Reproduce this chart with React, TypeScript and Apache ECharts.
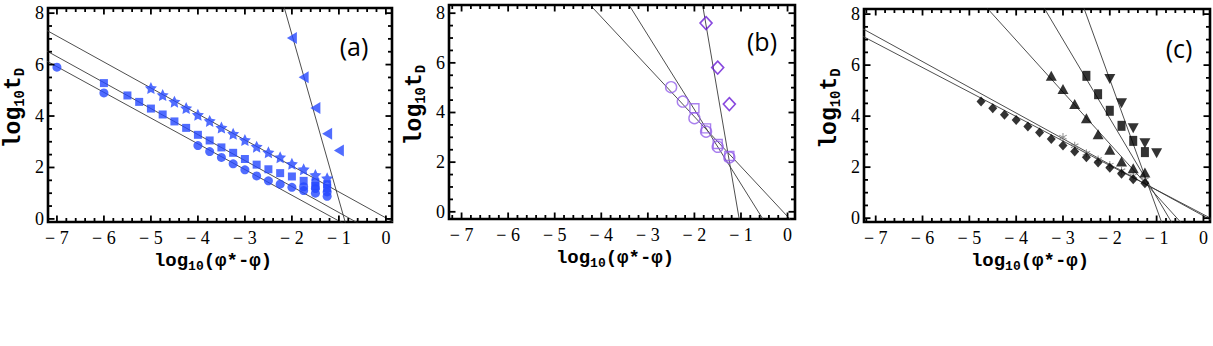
import React, { useEffect, useRef } from "react";
import * as echarts from "echarts";

// ---------- tick values ----------
const X_TICKS = [-7, -6, -5, -4, -3, -2, -1, 0];
const Y_TICKS = [0, 2, 4, 6, 8];
const X_MINOR: number[] = [];
for (let i = -40; i <= 5; i++) X_MINOR.push(Math.round(i * 2) / 10);
const Y_MINOR: number[] = [];
for (let i = -1; i <= 17; i++) Y_MINOR.push(i * 0.5);

// ---------- panel (a) ----------
const aCircles: number[][] = [
  [-7, 5.9], [-6, 4.9], [-4, 2.85], [-3.75, 2.62], [-3.5, 2.39], [-3.25, 2.14],
  [-3, 1.91], [-2.75, 1.67], [-2.5, 1.48], [-2.25, 1.35], [-2, 1.23], [-1.75, 1.1],
  [-1.5, 1.0], [-1.25, 0.88], [-1.5, 1.18], [-1.25, 1.05], [-1.75, 1.25],
];
const aSquares: number[][] = [
  [-6, 5.28], [-5.5, 4.8], [-5.25, 4.55], [-5, 4.29], [-4.75, 4.06], [-4.5, 3.79],
  [-4.25, 3.54], [-4, 3.27], [-3.75, 3.05], [-3.5, 2.78], [-3.25, 2.57], [-3, 2.33],
  [-2.75, 2.11], [-2.5, 1.93], [-2.25, 1.78], [-2, 1.65], [-1.75, 1.48], [-1.5, 1.42],
  [-1.25, 1.35], [-1.5, 1.28], [-1.25, 1.2],
];
const aStars: number[][] = [
  [-5, 5.09], [-4.75, 4.82], [-4.5, 4.56], [-4.25, 4.31], [-4, 4.05], [-3.75, 3.81],
  [-3.5, 3.55], [-3.25, 3.31], [-3, 3.07], [-2.75, 2.81], [-2.5, 2.59], [-2.25, 2.4],
  [-2, 2.14], [-1.75, 1.93], [-1.5, 1.71], [-1.25, 1.58],
];
const aTriLeft: number[][] = [[-2, 7.03], [-1.75, 5.51], [-1.5, 4.31], [-1.25, 3.31], [-1, 2.66]];
const aFitSlopes = [-6.43, -1.01, -1.01, -1.0];
const aFitIntercepts = [-5.69, 0.04, -0.76, -1.08];

// ---------- panel (b) ----------
const bCircles: number[][] = [[-2.5, 5.02], [-2.25, 4.44], [-2, 3.77], [-1.75, 3.23], [-1.5, 2.62], [-1.25, 2.19]];
const bSquares: number[][] = [[-2, 4.17], [-1.75, 3.36], [-1.5, 2.73], [-1.25, 2.25]];
const bDiamonds: number[][] = [[-1.75, 7.6], [-1.5, 5.81], [-1.25, 4.34]];
const bFitSlopes = [-2.01, -3.0, -10.97];
const bFitIntercepts = [-0.19, -1.88, -11.68];

// ---------- panel (c) ----------
const cDiamonds: number[][] = [
  [-4.75, 4.57], [-4.5, 4.31], [-4.25, 4.05], [-4, 3.85], [-3.75, 3.59], [-3.5, 3.36],
  [-3.25, 3.1], [-3, 2.85], [-2.75, 2.61], [-2.5, 2.39], [-2.25, 2.18], [-2, 1.98],
  [-1.75, 1.74], [-1.5, 1.53], [-1.25, 1.37],
];
const cAsterisks: number[][] = [
  [-3, 3.18], [-2.75, 2.84], [-2.5, 2.55], [-2.25, 2.3], [-2, 2.08], [-1.75, 1.86],
  [-1.5, 1.66], [-1.25, 1.5],
];
const cTriUp: number[][] = [
  [-3.25, 5.58], [-3, 5.06], [-2.75, 4.48], [-2.5, 3.92], [-2.25, 3.29], [-2, 2.68],
  [-1.75, 2.22], [-1.5, 1.96], [-1.25, 1.79],
];
const cSquares: number[][] = [[-2.5, 5.58], [-2.25, 4.86], [-2, 4.21], [-1.75, 3.62], [-1.5, 3.03], [-1.25, 2.59]];
const cTriDown: number[][] = [[-2, 5.46], [-1.75, 4.51], [-1.5, 3.53], [-1.25, 2.94], [-1, 2.55]];
const cFitSlopes = [-1.008, -0.96, -2.03, -3.086, -5.06];
const cFitIntercepts = [0.09, 0.145, -1.145, -2.26, -4.68];

const PANEL_LABELS = ["(a)", "(b)", "(c)"];

// ---------- layout ----------
const GRIDS = [
  { left: 48, top: 8, width: 344, height: 214 },
  { left: 449, top: 5, width: 346, height: 214 },
  { left: 864, top: 9, width: 346, height: 213 },
];
const X_RANGES = [[-7.19, 0.13], [-7.27, 0.16], [-7.25, 0.14]];
const Y_RANGES = [[-0.12, 8.2], [-0.29, 8.33], [-0.15, 8.2]];
const LABEL_POS = [[354, 46], [762, 41], [1179, 48]];

const STAR = "path://M0,-10 L2.94,-4.05 L9.51,-3.09 L4.76,1.55 L5.88,8.09 L0,5 L-5.88,8.09 L-4.76,1.55 L-9.51,-3.09 L-2.94,-4.05 Z";
const ASTER =
  "path://M-1.2,-10 L1.2,-10 L1.2,10 L-1.2,10 Z M8.06,-6.04 L9.26,-3.96 L-8.06,6.04 L-9.26,3.96 Z M9.26,3.96 L8.06,6.04 L-9.26,-3.96 L-8.06,-6.04 Z";

const MONO = "Liberation Mono";
const SERIF = "Liberation Serif";

const xNameRich = {
  m: { fontFamily: MONO, fontWeight: "bold", fontSize: 19, color: "#000", lineHeight: 24 },
  s: { fontFamily: MONO, fontWeight: "bold", fontSize: 13, color: "#000", lineHeight: 10, verticalAlign: "bottom" },
};
const yNameRich = {
  m: { fontFamily: MONO, fontWeight: "bold", fontSize: 23, color: "#000", lineHeight: 26 },
  s: { fontFamily: MONO, fontWeight: "bold", fontSize: 14, color: "#000", lineHeight: 10, verticalAlign: "bottom" },
};

const fmt = (v: number) => (v < 0 ? "\u2212 " + String(-v) : String(v));

function xAxisFor(g: number) {
  return {
    type: "value", gridIndex: g, min: X_RANGES[g][0], max: X_RANGES[g][1], position: "bottom",
    axisLine: { show: false, onZero: false }, splitLine: { show: false }, axisTick: { show: false },
    axisLabel: { show: true, customValues: X_TICKS, formatter: fmt, margin: 7, fontFamily: SERIF, fontSize: 18, color: "#000" },
    name: "{m|log}{s|10}{m|(\u03c6*-\u03c6)}", nameLocation: "middle", nameGap: 24,
    nameTextStyle: { rich: xNameRich, padding: [0, 14, 0, 0] },
  };
}

function yAxisFor(g: number) {
  return {
    type: "value", gridIndex: g, min: Y_RANGES[g][0], max: Y_RANGES[g][1], position: "left",
    axisLine: { show: false, onZero: false }, splitLine: { show: false }, axisTick: { show: false },
    axisLabel: { show: true, customValues: Y_TICKS, margin: 4, fontFamily: SERIF, fontSize: 18, color: "#000" },
    name: "{m|log}{s|10}{m|t}{s|D}", nameLocation: "middle", nameRotate: 90, nameGap: 21,
    nameTextStyle: { rich: yNameRich, padding: [0, 0, 0, 14] },
  };
}

// tick marks inside the frame (custom series, placed through the axes' scales)
// each datum: [value, side (0 bottom,1 top,2 left,3 right), major?1:0]
function tickSeries(g: number) {
  const [x0, x1] = X_RANGES[g];
  const [y0, y1] = Y_RANGES[g];
  const inX = (v: number) => v > x0 + 0.03 && v < x1 - 0.03;
  const inY = (v: number) => v > y0 + 0.05 && v < y1 - 0.05;
  const data: number[][] = [];
  X_MINOR.filter(inX).forEach((v) => {
    const major = X_TICKS.includes(v) ? 1 : 0;
    data.push([v, 0, major], [v, 1, major]);
  });
  Y_MINOR.filter(inY).forEach((v) => {
    const major = Y_TICKS.includes(v) ? 1 : 0;
    data.push([v, 2, major], [v, 3, major]);
  });
  return {
    type: "custom", xAxisIndex: g, yAxisIndex: g, data, silent: true, z: 5, clip: false,
    encode: { x: -1, y: -1 },
    renderItem: (params: any, api: any) => {
      const v = api.value(0), side = api.value(1), len = api.value(2) ? 6.5 : 4;
      let x1p = 0, y1p = 0, x2p = 0, y2p = 0;
      if (side === 0) { const p = api.coord([v, y0]); x1p = x2p = p[0]; y1p = p[1]; y2p = p[1] - len; }
      else if (side === 1) { const p = api.coord([v, y1]); x1p = x2p = p[0]; y1p = p[1]; y2p = p[1] + len; }
      else if (side === 2) { const p = api.coord([x0, v]); y1p = y2p = p[1]; x1p = p[0]; x2p = p[0] + len; }
      else { const p = api.coord([x1, v]); y1p = y2p = p[1]; x1p = p[0]; x2p = p[0] - len; }
      return { type: "line", shape: { x1: x1p, y1: y1p, x2: x2p, y2: y2p }, style: { stroke: "#000", lineWidth: 1.8 } };
    },
  };
}

function lineSeries(p: number, slopes: number[], intercepts: number[]) {
  return slopes.map((m, i) => ({
    type: "line", xAxisIndex: p, yAxisIndex: p,
    data: [[-9, m * -9 + intercepts[i]], [2, m * 2 + intercepts[i]]],
    symbol: "none", clip: true, silent: true, z: 1,
    lineStyle: { color: "#3a3a3a", width: 0.9 },
  }));
}

function scatter(p: number, data: number[][], opts: any) {
  return { type: "scatter", xAxisIndex: p, yAxisIndex: p, data, z: 3, silent: true, ...opts };
}

const BLUE = "#2447ff";
const PURPLE_L = "#9460ea";
const PURPLE_D = "#6a1cd6";

export default function App() {
  const ref = useRef<HTMLDivElement>(null);
  useEffect(() => {
    if (!ref.current) return;
    const chart = echarts.init(ref.current, undefined, { renderer: "svg" });
    const grids = GRIDS.map((g) => ({ ...g, show: true, borderColor: "#000", borderWidth: 2.6 }));
    const series: any[] = [
      ...lineSeries(0, aFitSlopes, aFitIntercepts),
      scatter(0, aCircles, { symbol: "circle", symbolSize: 9, itemStyle: { color: BLUE } }),
      scatter(0, aSquares, { symbol: "rect", symbolSize: 8, itemStyle: { color: BLUE } }),
      scatter(0, aStars, { symbol: STAR, symbolSize: 12, itemStyle: { color: BLUE } }),
      scatter(0, aTriLeft, { symbol: "triangle", symbolSize: [12, 10], symbolRotate: 90, itemStyle: { color: BLUE } }),
      ...lineSeries(1, bFitSlopes, bFitIntercepts),
      scatter(1, bCircles, { symbol: "circle", symbolSize: 11, itemStyle: { color: "transparent", borderColor: PURPLE_L, borderWidth: 1.4 } }),
      scatter(1, bSquares, { symbol: "rect", symbolSize: 9, itemStyle: { color: "transparent", borderColor: PURPLE_L, borderWidth: 1.4 } }),
      scatter(1, bDiamonds, { symbol: "diamond", symbolSize: [12, 13], itemStyle: { color: "transparent", borderColor: PURPLE_D, borderWidth: 1.6 } }),
      ...lineSeries(2, cFitSlopes, cFitIntercepts),
      scatter(2, cAsterisks, { symbol: ASTER, symbolSize: 8, itemStyle: { color: "#777" }, z: 2 }),
      scatter(2, cDiamonds, { symbol: "diamond", symbolSize: [9, 10], itemStyle: { color: "#000" } }),
      scatter(2, cTriUp, { symbol: "triangle", symbolSize: [11, 10], itemStyle: { color: "#000" } }),
      scatter(2, cSquares, { symbol: "rect", symbolSize: [8, 10], itemStyle: { color: "#000" } }),
      scatter(2, cTriDown, { symbol: "triangle", symbolSize: [11, 10], symbolRotate: 180, itemStyle: { color: "#000" } }),
      tickSeries(0), tickSeries(1), tickSeries(2),
    ];
    chart.setOption({
      animation: false,
      backgroundColor: "#fff",
      grid: grids,
      xAxis: [0, 1, 2].map((g) => xAxisFor(g)),
      yAxis: [0, 1, 2].map((g) => yAxisFor(g)),
      series,
      graphic: PANEL_LABELS.map((t, i) => ({
        type: "text", x: LABEL_POS[i][0], y: LABEL_POS[i][1], z: 10,
        style: { text: t, font: "25px Open Sans", fill: "#000", textAlign: "center", textVerticalAlign: "middle" },
      })),
    });
    return () => chart.dispose();
  }, []);
  return <div ref={ref} style={{ position: "absolute", left: 0, top: 0, width: 1213, height: 346 }} />;
}
